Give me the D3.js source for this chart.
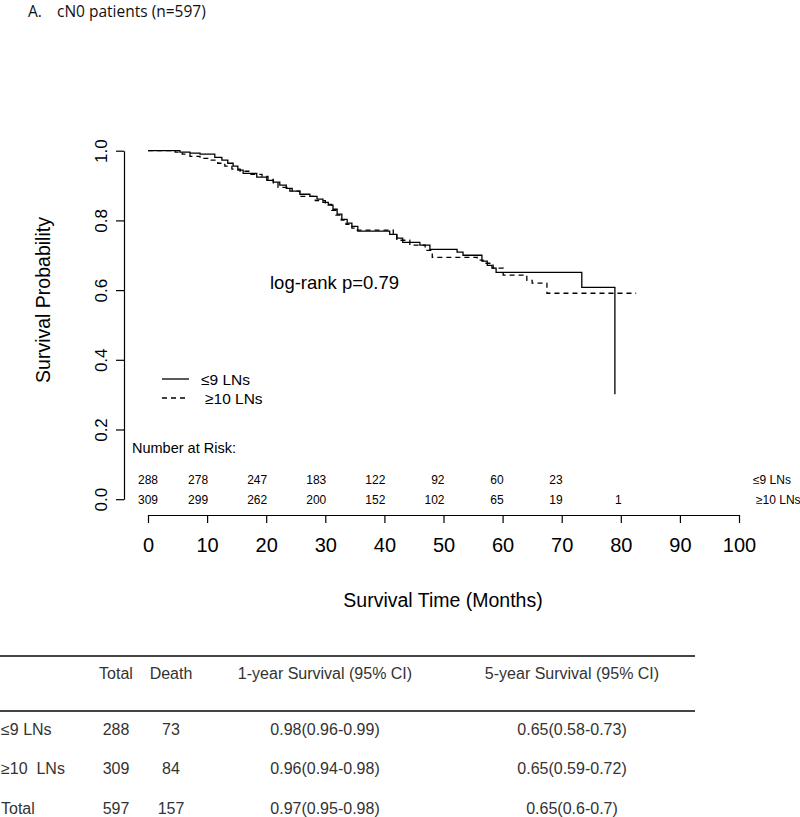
<!DOCTYPE html>
<html><head><meta charset="utf-8">
<script src="https://cdn.jsdelivr.net/npm/d3@7"></script>
<style>
body{margin:0;background:#fff;}
svg{display:block;font-family:"Liberation Sans",Arial,sans-serif;}
</style></head>
<body><svg id="c" width="800" height="817"></svg>
<script>
// ---- data ----
const groups = ["≤9 LNs", "≥10 LNs"];
const solidTimes = [0,5.4,7.1,8.8,11.3,12.5,13.5,14.4,15.2,16.1,18.4,20.1,21.2,22.3,23.4,24.4,25.7,27.4,28.6,29.6,30.5,31.3,32.0,32.8,33.7,34.5,35.5,40.9,42.1,43.1,46.0,47.7,52.3,53.3,56.5,57.4,58.2,58.9,73.4,79.0];
const solidSurv  = [1.0,0.996,0.993,0.990,0.981,0.973,0.964,0.956,0.944,0.935,0.924,0.915,0.910,0.901,0.892,0.884,0.875,0.869,0.861,0.852,0.844,0.832,0.818,0.803,0.792,0.783,0.769,0.760,0.749,0.737,0.729,0.717,0.709,0.700,0.683,0.671,0.663,0.651,0.608,0.301];
const dashedTimes = [0,4.6,5.8,7.1,8.8,10.5,11.8,13.0,14.2,15.6,17.3,19.3,20.3,21.2,22.0,24.0,25.7,28.3,30.0,31.1,31.8,32.7,33.5,34.5,35.4,41.5,42.1,44.3,46.9,48.1,55.7,56.7,58.4,60.1,64.1,65.0,67.5,82.6];
const dashedSurv  = [1.0,0.996,0.990,0.984,0.978,0.973,0.964,0.956,0.947,0.941,0.932,0.926,0.918,0.906,0.895,0.884,0.869,0.857,0.846,0.829,0.815,0.801,0.789,0.778,0.772,0.758,0.743,0.729,0.714,0.694,0.686,0.677,0.663,0.643,0.628,0.620,0.591,0.591];
const xTicks = [0,10,20,30,40,50,60,70,80,90,100];
const yTicks = [0,0.2,0.4,0.6,0.8,1.0];
const riskTimes = [0,10,20,30,40,50,60,70,80];
const riskSolid = [288,278,247,183,122,92,60,23,null];
const riskDashed = [309,299,262,200,152,102,65,19,1];
const pText = "log-rank p=0.79";
const tableHeader = ["", "Total", "Death", "1-year Survival (95% CI)", "5-year Survival (95% CI)"];
const tableLabels = ["≤9 LNs", "≥10  LNs", "Total"];
const tableTotal = [288, 309, 597];
const tableDeath = [73, 84, 157];
const tableOneYear = ["0.98(0.96-0.99)", "0.96(0.94-0.98)", "0.97(0.95-0.98)"];
const tableFiveYear = ["0.65(0.58-0.73)", "0.65(0.59-0.72)", "0.65(0.6-0.7)"];

// ---- drawing ----
const svg = d3.select("#c");
const x = d3.scaleLinear().domain([0,100]).range([148,739]);
const y = d3.scaleLinear().domain([0,1]).range([499.2,150.7]);

svg.append("text").attr("x",28).attr("y",17).attr("font-family","'Open Sans',sans-serif")
  .attr("font-size",15.5).attr("fill","#111").text("A.");
svg.append("text").attr("x",57).attr("y",17).attr("font-family","'Open Sans',sans-serif")
  .attr("font-size",15.5).attr("fill","#111").text("cN0 patients (n=597)");

// y axis
const ya = svg.append("g").attr("transform","translate(124,0)")
  .call(d3.axisLeft(y).tickValues(yTicks).tickSize(8).tickSizeOuter(0).tickFormat(d3.format(".1f")));
ya.select(".domain").attr("stroke","#000").attr("stroke-width",1.2);
ya.selectAll(".tick line").attr("stroke","#000").attr("stroke-width",1.2);
ya.selectAll(".tick text").attr("font-size",17).attr("fill","#000")
  .attr("x",0).attr("dy",0).attr("text-anchor","middle")
  .attr("transform","translate(-17,0) rotate(-90)");

// x axis
const xa = svg.append("g").attr("transform","translate(0,515)")
  .call(d3.axisBottom(x).tickValues(xTicks).tickSize(8).tickSizeOuter(0).tickPadding(15));
xa.select(".domain").attr("stroke","#000").attr("stroke-width",1.2);
xa.selectAll(".tick line").attr("stroke","#000").attr("stroke-width",1.2);
xa.selectAll(".tick text").attr("font-size",20).attr("fill","#000");

svg.append("text").attr("x",443).attr("y",607).attr("text-anchor","middle")
  .attr("font-size",19.5).text("Survival Time (Months)");
svg.append("text").attr("transform","translate(50,300) rotate(-90)").attr("text-anchor","middle")
  .attr("font-size",19.5).text("Survival Probability");

// curves
const line = d3.line().x(d=>x(d[0])).y(d=>y(d[1])).curve(d3.curveStepAfter);
const solidData = solidTimes.map((t,i)=>[t,solidSurv[i]]);
const dashedData = dashedTimes.map((t,i)=>[t,dashedSurv[i]]);
svg.append("path").datum(dashedData).attr("d",line).attr("fill","none")
  .attr("stroke","#000").attr("stroke-width",1.3).attr("stroke-dasharray","5,4");
svg.append("path").datum(solidData).attr("d",line).attr("fill","none")
  .attr("stroke","#000").attr("stroke-width",1.3);

svg.append("text").attr("x",270).attr("y",289).attr("font-size",18.5).text(pText);

// legend
const leg = [{y:379, dash:null, tx:201}, {y:398, dash:"5,4", tx:205}];
leg.forEach((l,i)=>{
  svg.append("line").attr("x1",162).attr("x2",189).attr("y1",l.y).attr("y2",l.y)
    .attr("stroke","#000").attr("stroke-width",1.3).attr("stroke-dasharray",l.dash);
  svg.append("text").attr("x",l.tx).attr("y",l.y+6).attr("font-size",15.5).text(groups[i]);
});

// number at risk
svg.append("text").attr("x",132).attr("y",453).attr("font-size",14.5).text("Number at Risk:");
[[riskSolid,484],[riskDashed,504]].forEach(([vals,yy])=>{
  svg.append("g").selectAll("text").data(riskTimes.map((t,i)=>({t,v:vals[i]})).filter(d=>d.v!==null))
    .join("text").attr("x",d=>d.t===0 ? x(d.t) : x(d.t)+1)
    .attr("text-anchor",d=>d.t===0?"middle":"end")
    .attr("y",yy).attr("font-size",12).text(d=>d.v);
});
svg.append("text").attr("x",753).attr("y",484).attr("font-size",12).text(groups[0]);
svg.append("text").attr("x",756).attr("y",504).attr("font-size",12).text(groups[1]);

// table
const tcol = "#333";
svg.append("line").attr("x1",0).attr("x2",695).attr("y1",656).attr("y2",656).attr("stroke","#444").attr("stroke-width",2);
svg.append("line").attr("x1",0).attr("x2",695).attr("y1",711).attr("y2",711).attr("stroke","#444").attr("stroke-width",2);
const colX = [1,116,171,325,572];
tableHeader.forEach((h,i)=>{
  svg.append("text").attr("x",colX[i]).attr("y",679).attr("text-anchor",i===0?"start":"middle")
    .attr("font-size",16).attr("fill",tcol).text(h);
});
const rowY = [735,774,814];
tableLabels.forEach((lab,r)=>{
  const vals = [lab, tableTotal[r], tableDeath[r], tableOneYear[r], tableFiveYear[r]];
  vals.forEach((v,i)=>{
    svg.append("text").attr("x",colX[i]).attr("y",rowY[r]).attr("text-anchor",i===0?"start":"middle")
      .attr("font-size",16).attr("fill",tcol).attr("xml:space","preserve").style("white-space","pre").text(v);
  });
});
</script></body></html>
